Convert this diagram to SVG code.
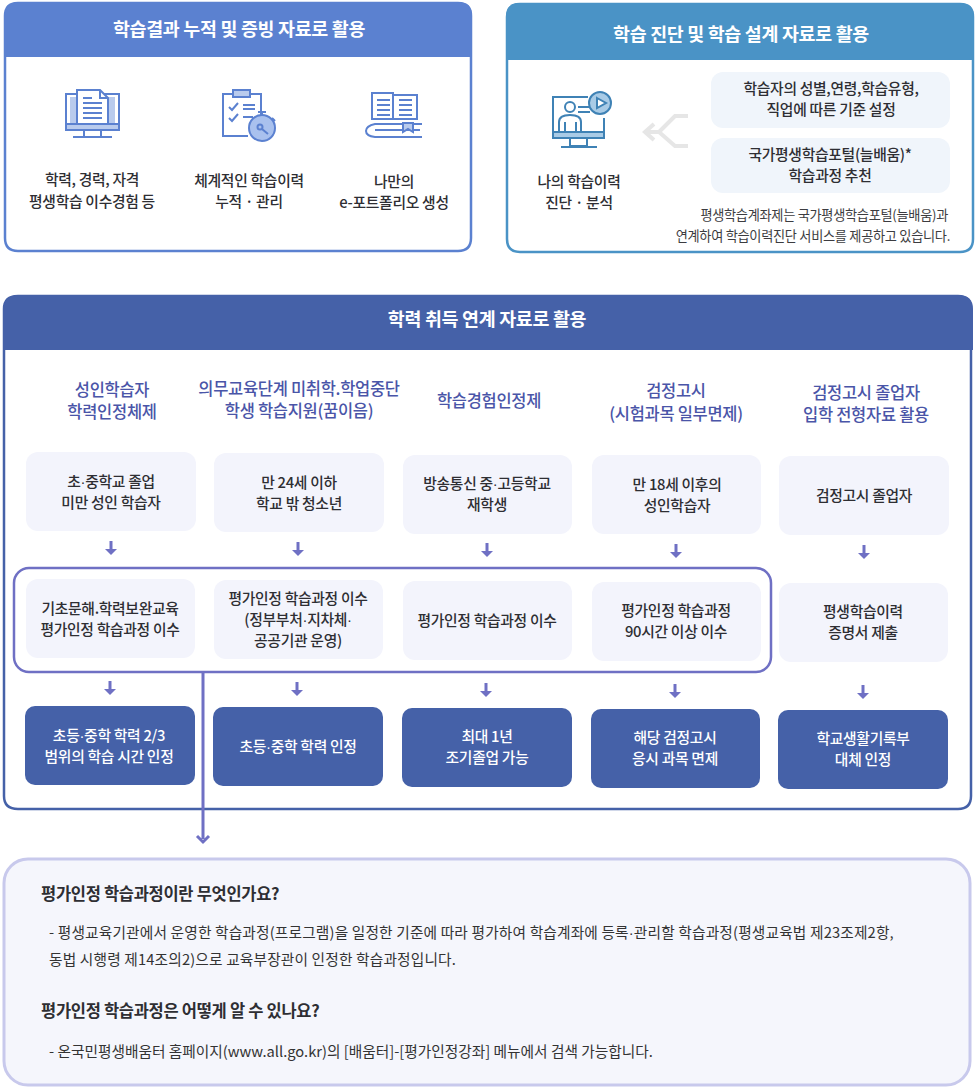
<svg xmlns="http://www.w3.org/2000/svg" width="975" height="1090" viewBox="0 0 975 1090">
<style>
text{font-family:"Noto Sans CJK KR","Noto Sans",sans-serif;text-anchor:middle;font-weight:500;letter-spacing:-.3px}
.d{font-family:"Liberation Sans",sans-serif}
.b{font-size:14.8px;fill:#2e2e33}
.h{font-size:18.4px;fill:#fff;font-weight:700}
.t{font-size:16.5px;fill:#4a55a8;font-weight:500}
.w{font-size:14.8px;fill:#fff;font-weight:500}
.s{font-size:13.2px;fill:#3c3c40;font-weight:400}
.n{font-size:14.7px;fill:#333;text-anchor:start;font-weight:400;letter-spacing:0}
.q{font-size:16.5px;fill:#2e2e33;text-anchor:start;font-weight:700}
.lt{fill:#f3f4fc}
.dk{fill:#4561a8}
.ic1{fill:none;stroke:#5b81d0;stroke-width:2}
.ic2{fill:none;stroke:#3f82b5;stroke-width:2}
.ar{stroke:#6f70c4;stroke-width:3;fill:none}
</style>
<defs>
<g id="dn"><path class="ar" d="M0 -6V5"/><path d="M-6 2L0 8L6 2Z" fill="#6f70c4"/></g>
</defs>

<g id="panel-record">
<path d="M18 3H458Q471 3 471 16V238Q471 251 458 251H18Q5 251 5 238V16Q5 3 18 3Z" fill="#fff" stroke="#5b81d0" stroke-width="2.5"/>
<path d="M18 2H458Q472 2 472 16V57H5V16Q5 2 18 2Z" fill="#5b81d0"/>
<text class="h" x="239" y="36">학습결과 누적 및 증빙 자료로 활용</text>
<g class="ic1">
<rect x="66" y="94" width="53" height="36" fill="#fff"/><rect x="70" y="97" width="45" height="28" fill="#b9cbed" stroke="none"/>
<path d="M77 90H100L108 98V124H77Z" fill="#fff"/><path d="M100 90V98H108M83 103H102M83 108H102M83 113H102M83 118H102M83 98H92"/>
<rect x="66" y="124" width="53" height="6" fill="#b9cbed"/><path d="M84 130V137H101V130M73 137H112"/>
</g>
<g class="ic1">
<path d="M248 136H223V94H261V118"/><rect x="233" y="90" width="17" height="7" fill="#b9cbed"/>
<path d="M229 107L232 110L238 103M229 118L232 121L238 114M243 105H255M243 109H255M243 117H253"/>
<circle cx="262" cy="128" r="13" fill="#a9c1ee"/><path d="M262 115V112M258 112H266M272 118L275 121M262 129L268 134"/><circle cx="260" cy="127" r="2.5"/>
</g>
<g class="ic1">
<path d="M372 93H393V119H372ZM393 95H417V119H393Z" fill="#fff"/><path d="M377 100H390M377 105H390M377 110H390M377 115H390M399 100H412M399 105H412M399 110H412M399 115H412"/>
<path d="M422 124H375Q366 126 366 131Q366 136 375 137H422M375 130H420"/><path d="M403 123V132L408 129L413 132V123Z" fill="#b9cbed"/>
</g>
<text class="b"><tspan x="92" y="185">학력, 경력, 자격</tspan><tspan x="92" y="207">평생학습 이수경험 등</tspan></text>
<text class="b"><tspan x="249" y="186">체계적인 학습이력</tspan><tspan x="249" y="207">누적 · 관리</tspan></text>
<text class="b"><tspan x="394" y="187">나만의</tspan><tspan x="394" y="208">e-포트폴리오 생성</tspan></text>
</g>

<g id="panel-diagnosis">
<path d="M520 4H960Q973 4 973 17V239Q973 252 960 252H520Q507 252 507 239V17Q507 4 520 4Z" fill="#fff" stroke="#4a93c6" stroke-width="2.5"/>
<path d="M520 3H960Q974 3 974 17V60H506V17Q506 3 520 3Z" fill="#4a93c6"/>
<text class="h" x="741" y="41">학습 진단 및 학습 설계 자료로 활용</text>
<g class="ic2">
<path d="M588 97H553V138H604V118"/><rect x="553" y="132" width="51" height="6" fill="#a9cbe6"/><path d="M570 138V146H587V138M561 147H597" />
<circle cx="600" cy="103" r="11" fill="#a9cbe6"/><path d="M597 98L606 103L597 108Z" fill="#fff"/>
<circle cx="570" cy="107" r="5"/><path d="M559 131V122Q559 115 570 115Q581 115 581 122V131M565 122V131M576 122V131M578 107H590M578 112H590"/>
</g>
<text class="b"><tspan x="579" y="187">나의 학습이력</tspan><tspan x="579" y="208">진단 · 분석</tspan></text>
<path d="M688 116H675L659 132L675 146H688M660 132H646M654 124L645 132L654 140" fill="none" stroke="#e6e6e6" stroke-width="4"/>
<rect x="711" y="72" width="239" height="56" rx="12" fill="#f0f5fb"/>
<text class="b"><tspan x="831" y="94">학습자의 성별,연령,학습유형,</tspan><tspan x="831" y="115">직업에 따른 기준 설정</tspan></text>
<rect x="711" y="138" width="239" height="55" rx="12" fill="#f0f5fb"/>
<text class="b"><tspan x="830" y="160">국가평생학습포털(늘배움)*</tspan><tspan x="830" y="181">학습과정 추천</tspan></text>
<text class="s" style="text-anchor:end"><tspan x="948" y="220">평생학습계좌제는 국가평생학습포털(늘배움)과</tspan><tspan x="950" y="241">연계하여 학습이력진단 서비스를 제공하고 있습니다.</tspan></text>
</g>

<g id="panel-degree">
<path d="M18 296H958Q971 296 971 309V796Q971 809 958 809H18Q4 809 4 796V309Q4 296 18 296Z" fill="#fff" stroke="#4561a8" stroke-width="2.5"/>
<path d="M18 295H958Q973 295 973 309V350H4V309Q4 295 18 295Z" fill="#4561a8"/>
<text class="h" x="487" y="326">학력 취득 연계 자료로 활용</text>
<text class="t"><tspan x="112" y="396">성인학습자</tspan><tspan x="112" y="418">학력인정체제</tspan></text>
<text class="t"><tspan x="299" y="395">의무교육단계 미취학.학업중단</tspan><tspan x="299" y="417">학생 학습지원(꿈이음)</tspan></text>
<text class="t" x="489" y="407">학습경험인정제</text>
<text class="t"><tspan x="676" y="397">검정고시</tspan><tspan x="676" y="420">(시험과목 일부면제)</tspan></text>
<text class="t"><tspan x="866" y="399">검정고시 졸업자</tspan><tspan x="866" y="421">입학 전형자료 활용</tspan></text>
</g>

<g id="c1-a"><rect class="lt" x="26" y="452" width="170" height="79" rx="12"/><text class="b"><tspan x="111" y="487">초<tspan class="d">·</tspan>중학교 졸업</tspan><tspan x="111" y="508">미만 성인 학습자</tspan></text></g>
<g id="c2-a"><rect class="lt" x="214" y="453" width="170" height="79" rx="12"/><text class="b"><tspan x="299" y="488">만 24세 이하</tspan><tspan x="299" y="509">학교 밖 청소년</tspan></text></g>
<g id="c3-a"><rect class="lt" x="403" y="455" width="169" height="79" rx="12"/><text class="b"><tspan x="487" y="489">방송통신 중<tspan class="d">·</tspan>고등학교</tspan><tspan x="487" y="510">재학생</tspan></text></g>
<g id="c4-a"><rect class="lt" x="592" y="455" width="169" height="79" rx="12"/><text class="b"><tspan x="677" y="490">만 18세 이후의</tspan><tspan x="677" y="511">성인학습자</tspan></text></g>
<g id="c5-a"><rect class="lt" x="779" y="456" width="170" height="79" rx="12"/><text class="b" x="864" y="501">검정고시 졸업자</text></g>

<g id="c1-b"><rect class="lt" x="26" y="579" width="169" height="79" rx="12"/><text class="b"><tspan x="110" y="614">기초문해.학력보완교육</tspan><tspan x="110" y="635">평가인정 학습과정 이수</tspan></text></g>
<g id="c2-b"><rect class="lt" x="214" y="580" width="169" height="79" rx="12"/><text class="b"><tspan x="298" y="604">평가인정 학습과정 이수</tspan><tspan x="298" y="625">(정부부처<tspan class="d">·</tspan>지차체<tspan class="d">·</tspan></tspan><tspan x="298" y="646">공공기관 운영)</tspan></text></g>
<g id="c3-b"><rect class="lt" x="403" y="581" width="169" height="79" rx="12"/><text class="b" x="487" y="626">평가인정 학습과정 이수</text></g>
<g id="c4-b"><rect class="lt" x="592" y="582" width="169" height="79" rx="12"/><text class="b"><tspan x="676" y="616">평가인정 학습과정</tspan><tspan x="676" y="637">90시간 이상 이수</tspan></text></g>
<g id="c5-b"><rect class="lt" x="779" y="583" width="169" height="79" rx="12"/><text class="b"><tspan x="863" y="617">평생학습이력</tspan><tspan x="863" y="638">증명서 제출</tspan></text></g>

<g id="c1-c"><rect class="dk" x="25" y="706" width="170" height="79" rx="10"/><text class="w"><tspan x="109" y="741">초등<tspan class="d">·</tspan>중학 학력 2/3</tspan><tspan x="109" y="762">범위의 학습 시간 인정</tspan></text></g>
<g id="c2-c"><rect class="dk" x="213" y="707" width="170" height="79" rx="10"/><text class="w" x="298" y="752">초등<tspan class="d">·</tspan>중학 학력 인정</text></g>
<g id="c3-c"><rect class="dk" x="402" y="708" width="170" height="79" rx="10"/><text class="w"><tspan x="487" y="742">최대 1년</tspan><tspan x="487" y="763">조기졸업 가능</tspan></text></g>
<g id="c4-c"><rect class="dk" x="591" y="709" width="169" height="79" rx="10"/><text class="w"><tspan x="675" y="743">해당 검정고시</tspan><tspan x="675" y="764">응시 과목 면제</tspan></text></g>
<g id="c5-c"><rect class="dk" x="778" y="710" width="170" height="79" rx="10"/><text class="w"><tspan x="863" y="744">학교생활기록부</tspan><tspan x="863" y="765">대체 인정</tspan></text></g>

<g id="connectors">
<rect x="14" y="568" width="757" height="104" rx="15" fill="none" stroke="#6f70c4" stroke-width="2.5"/>
<use href="#dn" x="111" y="547"/><use href="#dn" x="298" y="548"/><use href="#dn" x="487" y="549"/><use href="#dn" x="676" y="550"/><use href="#dn" x="864" y="551"/>
<use href="#dn" x="110" y="687"/><use href="#dn" x="297" y="688"/><use href="#dn" x="486" y="689"/><use href="#dn" x="675" y="690"/><use href="#dn" x="863" y="691"/>
<path class="ar" d="M203 672V839M197 836L203 842L209 836" stroke-width="2.5"/>
</g>

<g id="note">
<rect x="4" y="859" width="966" height="226" rx="24" fill="#f5f6fc" stroke="#c8c9ec" stroke-width="3"/>
<text class="q" x="41" y="900">평가인정 학습과정이란 무엇인가요?</text>
<text class="n" style="letter-spacing:.16px"><tspan x="49" y="938">- 평생교육기관에서 운영한 학습과정(프로그램)을 일정한 기준에 따라 평가하여 학습계좌에 등록<tspan class="d">·</tspan>관리할 학습과정(평생교육법 제23조제2항,</tspan><tspan x="49" y="965">동법 시행령 제14조의2)으로 교육부장관이 인정한 학습과정입니다.</tspan></text>
<text class="q" x="41" y="1017">평가인정 학습과정은 어떻게 알 수 있나요?</text>
<text class="n" x="49" y="1057">- 온국민평생배움터 홈페이지(www.all.go.kr)의 [배움터]-[평가인정강좌] 메뉴에서 검색 가능합니다.</text>
</g>
</svg>
